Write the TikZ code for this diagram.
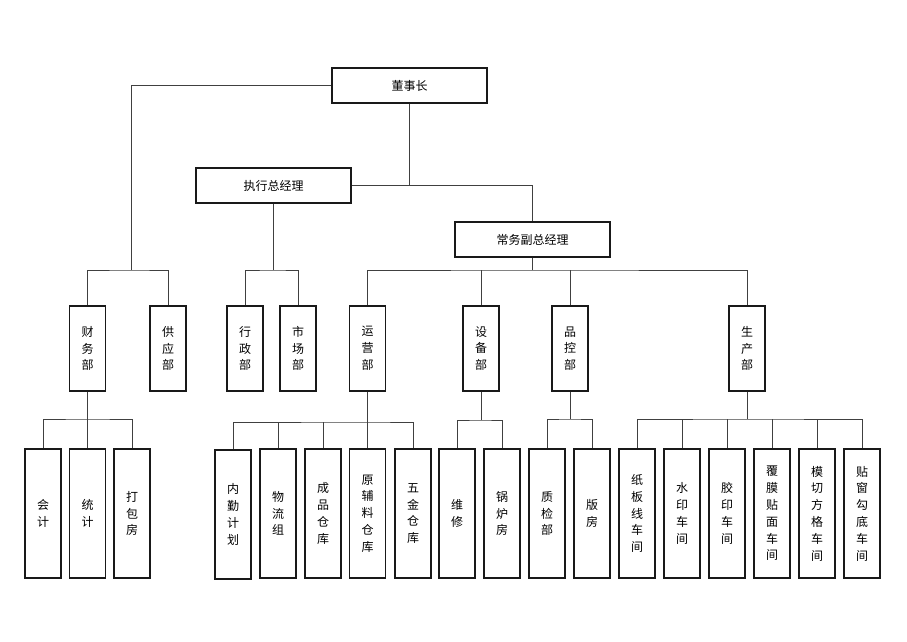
\documentclass[tikz,border=0pt]{standalone}
\usepackage{fontspec}
\newfontfamily\cjk{Noto Sans CJK SC}
\begin{document}
\begin{tikzpicture}[x=1pt,y=-1pt,
  box/.style={draw=black!90, line width=1.3pt, inner sep=0pt, font=\cjk\fontsize{12}{16.8}\selectfont, align=center},
  topbox/.style={box, minimum width=155pt, minimum height=35pt},
  midbox/.style={box, minimum width=36pt, minimum height=85pt},
  lowbox/.style={box, minimum width=36pt, minimum height=129pt},
  conn/.style={draw=black!75, line width=0.8pt}]
\useasboundingbox[fill=white] (0,0) rectangle (907,642);
% top level
\node[topbox] (dsz) at (409.5,85.5) {董事长};
\node[topbox] (zx) at (273.5,185.5) {执行总经理};
\node[topbox] (cw) at (532.5,239.5) {常务副总经理};
% middle level
\node[midbox] (cwb) at (87.5,348.5) {财\\务\\部};
\node[midbox] (gy) at (168,348.5) {供\\应\\部};
\node[midbox] (xz) at (245,348.5) {行\\政\\部};
\node[midbox] (sc) at (298,348.5) {市\\场\\部};
\node[midbox] (yy) at (367.5,348.5) {运\\营\\部};
\node[midbox] (sb) at (481,348.5) {设\\备\\部};
\node[midbox] (pk) at (570,348.5) {品\\控\\部};
\node[midbox] (scb) at (747,348.5) {生\\产\\部};
% bottom level
\node[lowbox] (kj) at (43,513.5) {会\\计};
\node[lowbox] (tj) at (87.5,513.5) {统\\计};
\node[lowbox] (db) at (132,513.5) {打\\包\\房};
\node[lowbox] (nq) at (233,514.5) {内\\勤\\计\\划};
\node[lowbox] (wl) at (278,513.5) {物\\流\\组};
\node[lowbox] (cp) at (323,513.5) {成\\品\\仓\\库};
\node[lowbox] (yf) at (367.5,513.5) {原\\辅\\料\\仓\\库};
\node[lowbox] (wj) at (413,513.5) {五\\金\\仓\\库};
\node[lowbox] (wx) at (457,513.5) {维\\修};
\node[lowbox] (gl) at (502,513.5) {锅\\炉\\房};
\node[lowbox] (zj) at (547,513.5) {质\\检\\部};
\node[lowbox] (bf) at (592,513.5) {版\\房};
\node[lowbox] (zb) at (637,513.5) {纸\\板\\线\\车\\间};
\node[lowbox] (sy) at (682,513.5) {水\\印\\车\\间};
\node[lowbox] (jy) at (727,513.5) {胶\\印\\车\\间};
\node[lowbox] (fm) at (772,513.5) {覆\\膜\\贴\\面\\车\\间};
\node[lowbox] (mq) at (817,513.5) {模\\切\\方\\格\\车\\间};
\node[lowbox] (tc) at (862,513.5) {贴\\窗\\勾\\底\\车\\间};
% junctions
\coordinate (jL) at (131,270);
\coordinate (jZ) at (273.5,270);
\coordinate (jC) at (532.5,270);
\coordinate (jD) at (409.5,185.5);
\coordinate (jF) at (87.5,419);
\coordinate (jY) at (367.5,422);
\coordinate (jS) at (481,420);
\coordinate (jK) at (570,419);
\coordinate (jP) at (747,419);
% top connectors
\draw[conn] (dsz.west) -| (jL);
\draw[conn] (cwb.north) |- (jL) -| (gy.north);
\draw[conn] (dsz.south) -- (jD);
\draw[conn] (zx.east) -| (cw.north);
\draw[conn] (zx.south) -- (jZ);
\draw[conn] (xz.north) |- (jZ) -| (sc.north);
\draw[conn] (cw.south) -- (jC);
\draw[conn] (yy.north) |- (jC) -| (scb.north);
\draw[conn] (sb.north) -- (sb.north |- jC);
\draw[conn] (pk.north) -- (pk.north |- jC);
% lower connectors
\draw[conn] (cwb.south) -- (tj.north);
\draw[conn] (kj.north) |- (jF) -| (db.north);
\draw[conn] (yy.south) -- (yf.north);
\draw[conn] (nq.north) |- (jY) -| (wj.north);
\draw[conn] (wl.north) -- (wl.north |- jY);
\draw[conn] (cp.north) -- (cp.north |- jY);
\draw[conn] (sb.south) -- (jS);
\draw[conn] (wx.north) |- (jS) -| (gl.north);
\draw[conn] (pk.south) -- (jK);
\draw[conn] (zj.north) |- (jK) -| (bf.north);
\draw[conn] (scb.south) -- (jP);
\draw[conn] (zb.north) |- (jP) -| (tc.north);
\draw[conn] (sy.north) -- (sy.north |- jP);
\draw[conn] (jy.north) -- (jy.north |- jP);
\draw[conn] (fm.north) -- (fm.north |- jP);
\draw[conn] (mq.north) -- (mq.north |- jP);
\end{tikzpicture}
\end{document}
